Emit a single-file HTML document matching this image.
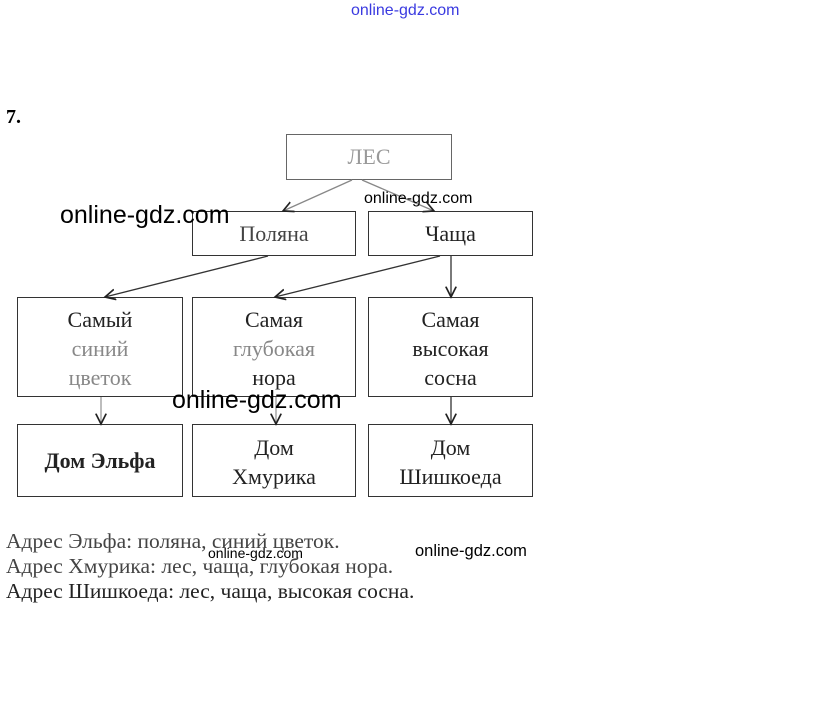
<!DOCTYPE html>
<html><head><meta charset="utf-8"><style>
body{margin:0;width:823px;height:707px;background:#fff;position:relative;overflow:hidden;font-family:"Liberation Serif",serif;}
.t{position:absolute;white-space:nowrap;}
.b{position:absolute;border:1.5px solid #333;box-sizing:border-box;text-align:center;font-size:22px;color:#222;}
.w{position:absolute;font-family:"Liberation Sans","DejaVu Sans",sans-serif;color:#000;white-space:nowrap;}
</style></head><body>
<div class="w" style="left:351px;top:2px;font-size:16px;color:#3a3ae0">online-gdz.com</div>
<div class="t" style="left:6px;top:106px;font-size:20px;font-weight:bold">7.</div>
<div class="b" style="left:286px;top:134px;width:166px;height:46px;line-height:44px;color:#999;border-color:#666">ЛЕС</div>
<div class="b" style="left:192px;top:211px;width:164px;height:45px;line-height:44px;color:#444">Поляна</div>
<div class="b" style="left:368px;top:211px;width:165px;height:45px;line-height:44px">Чаща</div>
<div class="b" style="left:17px;top:297px;width:166px;height:100px;line-height:29px;padding-top:7px">Самый<br><span style="color:#888">синий<br>цветок</span></div>
<div class="b" style="left:192px;top:297px;width:164px;height:100px;line-height:29px;padding-top:7px">Самая<br><span style="color:#888">глубокая</span><br>нора</div>
<div class="b" style="left:368px;top:297px;width:165px;height:100px;line-height:29px;padding-top:7px">Самая<br>высокая<br>сосна</div>
<div class="b" style="left:17px;top:424px;width:166px;height:73px;line-height:72px;font-weight:bold">Дом Эльфа</div>
<div class="b" style="left:192px;top:424px;width:164px;height:73px;line-height:29px;padding-top:8px">Дом<br>Хмурика</div>
<div class="b" style="left:368px;top:424px;width:165px;height:73px;line-height:29px;padding-top:8px">Дом<br>Шишкоеда</div>
<svg style="position:absolute;left:0;top:0" width="823" height="707">
<defs><marker id="a" markerWidth="10" markerHeight="10" refX="8" refY="5" orient="auto"><path d="M0,1 L8,5 L0,9" fill="none" stroke="#222" stroke-width="1.3"/></marker></defs>
<g stroke="#333" stroke-width="1.3" fill="none" marker-end="url(#a)">
<line x1="352" y1="180" x2="283" y2="211" stroke="#888"/>
<line x1="362" y1="180" x2="434" y2="211" stroke="#888"/>
<line x1="268" y1="256" x2="105" y2="297"/>
<line x1="440" y1="256" x2="275" y2="297"/>
<line x1="451" y1="256" x2="451" y2="297"/>
<line x1="101" y1="397" x2="101" y2="424" stroke="#999"/>
<line x1="276" y1="397" x2="276" y2="424" stroke="#999"/>
<line x1="451" y1="397" x2="451" y2="424"/>
</g></svg>
<div class="t" style="left:6px;top:529px;font-size:21.5px;color:#444">Адрес Эльфа: поляна, синий цветок.</div>
<div class="t" style="left:6px;top:554px;font-size:21.5px;color:#444">Адрес Хмурика: лес, чаща, глубокая нора.</div>
<div class="t" style="left:6px;top:579px;font-size:21.5px;color:#222">Адрес Шишкоеда: лес, чаща, высокая сосна.</div>
<div class="w" style="left:60px;top:201px;font-size:25px">online-gdz.com</div>
<div class="w" style="left:364px;top:190px;font-size:16px">online-gdz.com</div>
<div class="w" style="left:172px;top:386px;font-size:25px">online-gdz.com</div>
<div class="w" style="left:208px;top:545px;font-size:14px">online-gdz.com</div>
<div class="w" style="left:415px;top:542px;font-size:16.5px">online-gdz.com</div>
</body></html>
